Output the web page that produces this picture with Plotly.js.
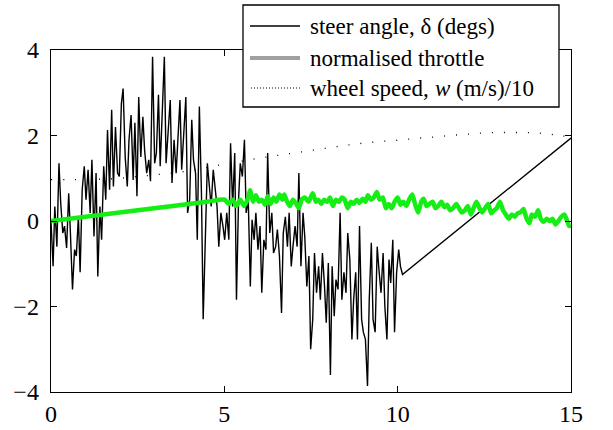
<!DOCTYPE html>
<html>
<head>
<meta charset="utf-8">
<script src="https://cdn.plot.ly/plotly-3.0.1.min.js"></script>
<style>
html,body{margin:0;padding:0;background:#fff;}
#chart{width:613px;height:430px;}
</style>
</head>
<body>
<div id="chart"></div>
<script>
// Steer angle (degs) vs time (s)
const steerT = [0.00,0.06,0.11,0.17,0.23,0.28,0.34,0.39,0.45,0.51,0.56,0.62,0.68,0.73,0.79,0.84,0.90,0.96,1.01,1.07,
1.13,1.18,1.24,1.30,1.35,1.41,1.46,1.52,1.58,1.63,1.69,1.75,1.80,1.86,1.92,1.97,2.03,2.08,2.14,2.20,
2.25,2.31,2.37,2.42,2.48,2.53,2.59,2.65,2.70,2.76,2.82,2.87,2.93,2.99,3.04,3.10,3.15,3.21,3.27,3.32,
3.38,3.44,3.49,3.55,3.61,3.66,3.72,3.77,3.83,3.89,3.94,4.00,4.06,4.11,4.17,4.22,4.28,4.34,4.39,4.45,
4.51,4.56,4.62,4.68,4.73,4.79,4.84,4.90,4.96,5.01,5.07,5.13,5.18,5.24,5.30,5.35,5.41,5.46,5.52,5.58,
5.63,5.69,5.75,5.80,5.86,5.91,5.97,6.03,6.08,6.14,6.20,6.25,6.31,6.37,6.42,6.48,6.53,6.59,6.65,6.70,
6.76,6.82,6.87,6.93,6.98,7.04,7.10,7.15,7.21,7.27,7.32,7.38,7.44,7.49,7.55,7.60,7.66,7.72,7.77,7.83,
7.89,7.94,8.00,8.06,8.11,8.17,8.22,8.28,8.34,8.39,8.45,8.51,8.56,8.62,8.68,8.73,8.79,8.84,8.90,8.96,
9.01,9.07,9.13,9.18,9.24,9.29,9.35,9.41,9.46,9.52,9.58,9.63,9.69,9.75,9.80,9.86,9.91,9.97,10.03,10.08,
10.14,15.00];
const steerV = [0,-1.06,0.34,-0.6,1.35,0.42,-0.28,-0.12,-0.63,0.65,-0.28,-1.6,-0.67,-0.82,0.1,-1.2,0.73,1.28,0.5,1.2,
0.19,1.43,-0.36,1.12,-1.3,0.34,-0.44,1.28,0.5,2.13,0.73,2.6,0.81,2.2,1.12,1.04,2.75,3.1,1.5,0.81,
1.9,2.48,0.96,2.3,0.58,2.9,1.5,2.44,1.66,1.12,1.43,0.93,3.84,1.35,1.59,2.95,1.28,2.68,3.84,1.35,
2.05,2.83,0.89,1.9,1.12,1.9,2.83,1.2,2.13,2.9,0.19,0.5,2.37,1.43,1.12,-0.44,2.68,0.65,-2.3,-0.12,
1.35,0.89,0.34,1.2,0.81,0.34,-0.6,0.19,-0.12,-0.44,0.19,-0.44,1.82,0.34,1.59,-1.84,0.5,1.35,1.04,1.9,
0.19,0.5,-1.53,0.03,-0.44,0.19,-0.67,-0.12,-1.68,-0.44,-0.67,1.59,-0.28,0.19,-0.75,-0.6,-0.2,-0.82,-2.15,-0.28,
0.1,-0.6,0.19,-1.06,-0.6,-0.12,-0.6,1.12,-1.06,0.19,-0.36,-1.53,-0.82,-3.0,-2.3,-0.75,-1.68,-1.06,-1.84,-0.75,
-1.53,-2.38,-0.98,-3.6,-1.06,-2.23,-1.37,-1.6,0.19,-1.84,-1.2,-1.68,-0.28,-0.9,-2.77,-1.84,-1.2,-2.77,-0.12,-2.3,
-2.6,-2.77,-3.86,-1.84,-0.51,-2.3,-2.6,-0.6,-1.14,-1.68,-0.75,-1.99,-2.77,-0.9,-1.45,-0.44,-2.6,-1.2,-0.67,-1.06,
-1.25,1.94];

// Normalised throttle vs time
const throttleT = [0.00,2.50,4.50,5.01,5.12,5.24,5.35,5.46,5.57,5.69,5.74,5.83,5.91,6.00,6.08,6.17,6.25,6.33,6.42,6.50,6.59,6.67,
6.73,6.81,6.89,6.98,7.06,7.15,7.23,7.32,7.43,7.55,7.64,7.71,7.80,7.88,7.97,8.05,8.13,8.22,8.31,8.39,
8.47,8.56,8.65,8.73,8.82,8.90,8.99,9.07,9.14,9.23,9.31,9.40,9.48,9.57,9.66,9.74,9.83,9.91,10.00,10.08,
10.16,10.25,10.33,10.42,10.50,10.59,10.68,10.75,10.83,10.92,11.01,11.09,11.17,11.26,11.35,11.43,11.51,11.60,11.69,11.77,
11.85,11.94,12.02,12.11,12.18,12.27,12.36,12.44,12.52,12.61,12.70,12.78,12.86,12.95,13.04,13.12,13.21,13.29,13.38,13.46,
13.54,13.63,13.72,13.80,13.87,13.96,14.05,14.13,14.21,14.30,14.39,14.47,14.55,14.64,14.72,14.81,14.89,14.95,15.00];
const throttleV = [0.00,0.25,0.45,0.50,0.40,0.50,0.35,0.50,0.35,0.55,0.72,0.45,0.60,0.45,0.50,0.38,0.58,0.40,0.55,0.45,0.62,0.50,
0.62,0.45,0.35,0.50,0.42,0.30,0.50,0.55,0.45,0.65,0.45,0.50,0.40,0.50,0.45,0.55,0.35,0.50,0.45,0.55,
0.50,0.30,0.45,0.40,0.50,0.42,0.52,0.45,0.60,0.50,0.55,0.68,0.50,0.55,0.30,0.40,0.30,0.45,0.55,0.38,
0.45,0.35,0.50,0.62,0.40,0.20,0.45,0.52,0.35,0.40,0.45,0.30,0.35,0.45,0.32,0.38,0.25,0.30,0.40,0.30,
0.20,0.25,0.35,0.15,0.28,0.45,0.30,0.20,0.30,0.40,0.18,0.25,0.30,0.45,0.25,0.15,0.05,0.15,0.10,0.18,
0.20,0.28,0.05,-0.05,0.15,0.10,0.25,0.05,-0.02,0.05,0.00,0.05,-0.08,0.00,0.10,0.15,0.00,-0.12,-0.10];

// Wheel speed w (m/s)/10 vs time
const wheelT = [0,0.5,1.0,1.5,2.0,2.5,3.0,3.5,4.0,4.5,5.0,5.5,6.0,6.5,7.0,7.5,8.0,8.5,9.0,9.5,10.0,10.5,11.0,11.5,12.0,12.5,13.0,13.5,14.0,14.5,15.0];
const wheelV = [0.97,0.97,0.97,0.98,1.00,1.04,1.08,1.12,1.18,1.25,1.33,1.40,1.47,1.53,1.59,1.65,1.71,1.77,1.82,1.86,1.89,1.93,1.96,2.00,2.03,2.06,2.07,2.07,2.06,2.02,1.96];

const xTicks = [0,5,10,15];
const yTicks = [-4,-2,0,2,4];
// legend texts; the third entry is split so the symbol w can be set in italics
const legendLabels = ['steer angle, δ (degs)','normalised throttle','wheel speed,'];
const wheelSymbol = 'w';
const wheelUnits = '(m/s)/10';

const FONT = 'Liberation Serif';
const LFS = 23;
const GREEN = 'rgb(20,238,20)';

const traces = [
  {x: steerT, y: steerV, type: 'scatter', mode: 'lines', line: {color: '#000', width: 1.4}},
  {x: throttleT, y: throttleV, type: 'scatter', mode: 'lines', line: {color: GREEN, width: 4.5, shape: 'spline', smoothing: 0.6}},
  {x: wheelT, y: wheelV, type: 'scatter', mode: 'lines', line: {color: '#000', width: 1.3, dash: '1px,11px', shape: 'spline'}}
];

// plot area: x 51..571 px, y 50..392 px
const W = 520, H = 342;
function toPaperX(x){ return (x - 51) / W; }
function toPaperY(y){ return (392 - y) / H; }

const rowsY = [26, 58, 88];
const textX = 308;
const shapes = [
  {type: 'rect', xref: 'paper', yref: 'paper', x0: toPaperX(243), x1: toPaperX(559), y0: toPaperY(107), y1: toPaperY(5),
   fillcolor: '#fff', line: {color: '#000', width: 1.3}, layer: 'above'},
  {type: 'line', xref: 'paper', yref: 'paper', x0: toPaperX(250), x1: toPaperX(300), y0: toPaperY(rowsY[0]), y1: toPaperY(rowsY[0]),
   line: {color: '#000', width: 1.3}, layer: 'above'},
  {type: 'line', xref: 'paper', yref: 'paper', x0: toPaperX(250), x1: toPaperX(300), y0: toPaperY(rowsY[1]), y1: toPaperY(rowsY[1]),
   line: {color: '#a0a0a0', width: 4}, layer: 'above'},
  {type: 'line', xref: 'paper', yref: 'paper', x0: toPaperX(251), x1: toPaperX(300), y0: toPaperY(rowsY[2]), y1: toPaperY(rowsY[2]),
   line: {color: '#000', width: 1, dash: '1px,2px'}, layer: 'above'}
];
function ann(text, xpx, ypx, style){
  return {text: text, xref: 'paper', yref: 'paper', x: toPaperX(xpx), y: toPaperY(ypx), xanchor: 'left', yanchor: 'middle',
    showarrow: false, font: {family: FONT, size: LFS, color: '#000', style: style || 'normal'}};
}
const annotations = legendLabels.map((t, i) => ann(t, textX, rowsY[i]));
annotations.push(ann(wheelSymbol, 432, rowsY[2], 'italic'));
annotations.push(ann(wheelUnits, 453, rowsY[2]));

const axisCommon = {
  showline: true, linecolor: '#000', linewidth: 1.3, mirror: 'ticks',
  ticks: 'inside', ticklen: 6, tickwidth: 1, tickcolor: '#000',
  showgrid: false, zeroline: false,
  tickfont: {family: FONT, size: 24, color: '#000'}
};

const layout = {
  width: 613, height: 430,
  margin: {l: 51, r: 42, t: 50, b: 38, pad: 0},
  showlegend: false,
  font: {family: FONT},
  xaxis: Object.assign({}, axisCommon, {range: [0, 15], tickvals: xTicks, ticklabelstandoff: 0}),
  yaxis: Object.assign({}, axisCommon, {range: [-4, 4], tickvals: yTicks, ticklabelstandoff: 6}),
  shapes: shapes,
  annotations: annotations
};

Plotly.newPlot('chart', traces, layout, {staticPlot: true, displayModeBar: false}).then(function(gd){
  try {
    const texts = gd.querySelectorAll('.annotation-text');
    if (texts.length >= 5) {
      const space = 0.25 * LFS;
      const w2 = texts[2].getComputedTextLength();
      const w3 = texts[3].getComputedTextLength();
      const x3 = textX + w2 + space;
      const x4 = x3 + w3 + space;
      return Plotly.relayout(gd, {'annotations[3].x': toPaperX(x3), 'annotations[4].x': toPaperX(x4)});
    }
  } catch (e) {}
});
</script>
</body>
</html>
